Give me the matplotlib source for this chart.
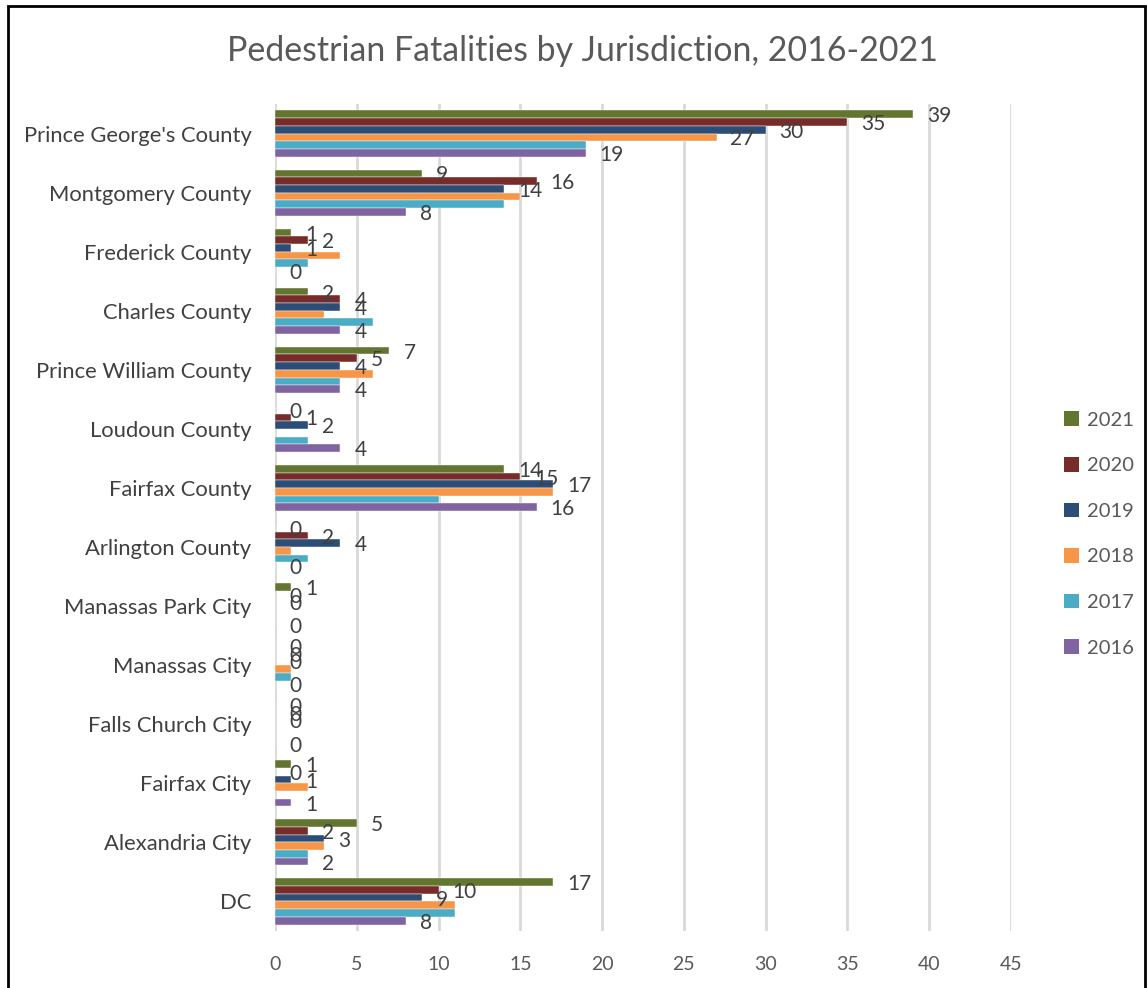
import matplotlib.pyplot as plt
import numpy as np
from matplotlib.patches import Patch, Rectangle

plt.rcParams['font.family'] = ['Lato', 'DejaVu Sans']

# jurisdictions, top to bottom as shown
places = ["Prince George's County", "Montgomery County", "Frederick County",
          "Charles County", "Prince William County", "Loudoun County",
          "Fairfax County", "Arlington County", "Manassas Park City",
          "Manassas City", "Falls Church City", "Fairfax City",
          "Alexandria City", "DC"]

y2021 = [39, 9, 1, 2, 7, 0, 14, 0, 1, 0, 0, 1, 5, 17]
y2020 = [35, 16, 2, 4, 5, 1, 15, 2, 0, 0, 0, 0, 2, 10]
y2019 = [30, 14, 1, 4, 4, 2, 17, 4, 0, 0, 0, 1, 3, 9]
y2018 = [27, 15, 4, 3, 6, 0, 17, 1, 0, 1, 0, 2, 3, 11]
y2017 = [19, 14, 2, 6, 4, 2, 10, 2, 0, 1, 0, 0, 2, 11]
y2016 = [19, 8, 0, 4, 4, 4, 16, 0, 0, 0, 0, 1, 2, 8]

years = ["2021", "2020", "2019", "2018", "2017", "2016"]
series = [y2021, y2020, y2019, y2018, y2017, y2016]
colors = ["#63762F", "#772C2A", "#2C4D75", "#F79646", "#4BACC6", "#8064A2"]

# which series carry data labels (as in the original chart)
labelled = ["2021", "2020", "2019", "2016"]

fig = plt.figure(figsize=(11.47, 9.88), dpi=100)
ax = fig.add_axes([275 / 1147, 1 - 931 / 988, (1011 - 275) / 1147, (931 - 104) / 988])

n = len(places)
pos = np.arange(n)
h = 0.13
for k, (yr, vals, c) in enumerate(zip(years, series, colors)):
    yy = pos - 2.5 * h + k * h
    ax.barh(yy, vals, height=h, color=c, edgecolor='white', linewidth=0.3, zorder=3)
    for i, v in enumerate(vals):
        if yr in labelled or (yr == "2018" and i == 0):
            ax.annotate(str(v), (v, yy[i]), xytext=(10, -1.5), textcoords='offset points',
                        ha='left', va='center', fontsize=15, color='#404040', zorder=4)

ax.set_xlim(0, 45)
ax.set_ylim(n - 0.5, -0.5)
ax.set_xticks(range(0, 46, 5))
ax.set_yticks(pos)
ax.set_yticklabels(places, fontsize=15.8, color='#404040')
ax.tick_params(axis='x', labelsize=14, colors='#595959', length=0, pad=18)
ax.tick_params(axis='y', length=0, pad=17)
ax.grid(axis='x', color='#D9D9D9', linewidth=2, zorder=0)
for s in ax.spines.values():
    s.set_visible(False)

handles = [Patch(facecolor=c, label=yr) for yr, c in zip(years, colors)]
fig.legend(handles=handles, loc='center left', bbox_to_anchor=(1046 / 1147, 1 - 534 / 988),
           frameon=False, fontsize=14.5, labelcolor='#595959', handlelength=0.75,
           handleheight=0.75, handletextpad=0.4, labelspacing=1.4)

fig.text(582 / 1147, 1 - 51 / 988, "Pedestrian Fatalities by Jurisdiction, 2016-2021",
         ha='center', va='center', fontsize=24.4, color='#595959')

# outer border of the chart
fig.patches.append(Rectangle((8 / 1147, -0.05), (1145 - 8) / 1147, 1.05 - 6 / 988,
                             transform=fig.transFigure, fill=False, edgecolor='black',
                             linewidth=2))

fig.savefig("out.png", dpi=100)
